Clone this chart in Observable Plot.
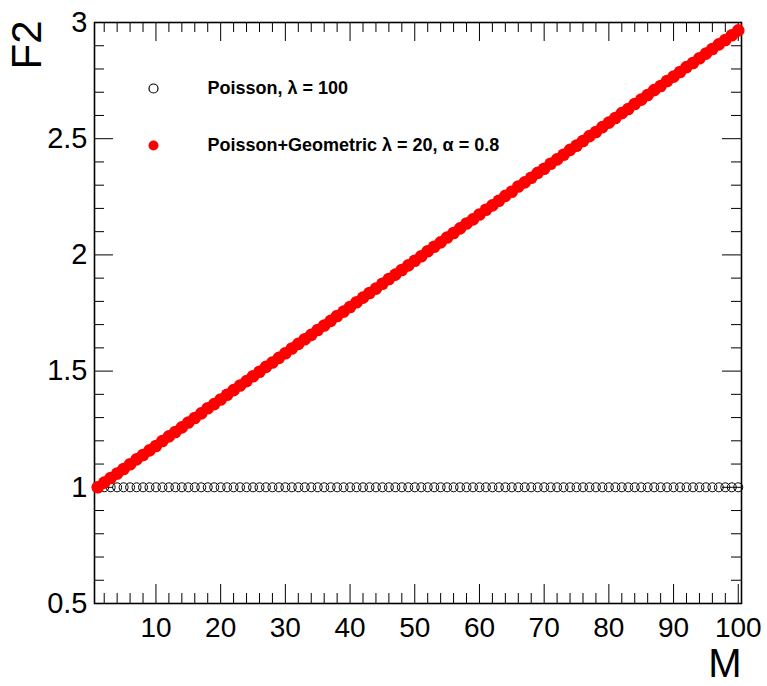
<!DOCTYPE html>
<html>
<head>
<meta charset="utf-8">
<script src="https://cdn.jsdelivr.net/npm/d3@7"></script>
<script src="https://cdn.jsdelivr.net/npm/@observablehq/plot@0.6"></script>
<style>
  body { margin: 0; background: #fff; }
  #chart svg { display: block; }
</style>
</head>
<body>
<div id="chart"></div>
<script>
// Bin multiplicity M = 1 … 100
const multiplicity = d3.range(1, 101);

// Scaled factorial moment F2 for a pure Poisson source (λ = 100)
const f2Poisson = [
  1.000, 1.000, 1.000, 1.000, 1.000, 1.000, 1.000, 1.000, 1.000, 1.000,
  1.000, 1.000, 1.000, 1.000, 1.000, 1.000, 1.000, 1.000, 1.000, 1.000,
  1.000, 1.000, 1.000, 1.000, 1.000, 1.000, 1.000, 1.000, 1.000, 1.000,
  1.000, 1.000, 1.000, 1.000, 1.000, 1.000, 1.000, 1.000, 1.000, 1.000,
  1.000, 1.000, 1.000, 1.000, 1.000, 1.000, 1.000, 1.000, 1.000, 1.000,
  1.000, 1.000, 1.000, 1.000, 1.000, 1.000, 1.000, 1.000, 1.000, 1.000,
  1.000, 1.000, 1.000, 1.000, 1.000, 1.000, 1.000, 1.000, 1.000, 1.000,
  1.000, 1.000, 1.000, 1.000, 1.000, 1.000, 1.000, 1.000, 1.000, 1.000,
  1.000, 1.000, 1.000, 1.000, 1.000, 1.000, 1.000, 1.000, 1.000, 1.000,
  1.000, 1.000, 1.000, 1.000, 1.000, 1.000, 1.000, 1.000, 1.000, 1.000
];

// F2 for a compound Poisson + geometric source (λ = 20, α = 0.8)
const f2PoissonGeometric = [
  1.000, 1.020, 1.040, 1.059, 1.079, 1.099, 1.120, 1.139, 1.159, 1.178,
  1.199, 1.219, 1.238, 1.258, 1.279, 1.298, 1.318, 1.340, 1.358, 1.378,
  1.398, 1.418, 1.438, 1.457, 1.478, 1.497, 1.518, 1.537, 1.557, 1.577,
  1.597, 1.617, 1.637, 1.656, 1.677, 1.696, 1.716, 1.737, 1.756, 1.776,
  1.796, 1.816, 1.836, 1.855, 1.876, 1.896, 1.915, 1.935, 1.955, 1.975,
  1.994, 2.016, 2.035, 2.054, 2.075, 2.094, 2.114, 2.135, 2.153, 2.174,
  2.194, 2.213, 2.233, 2.254, 2.272, 2.294, 2.312, 2.332, 2.353, 2.371,
  2.392, 2.411, 2.431, 2.452, 2.470, 2.490, 2.511, 2.529, 2.550, 2.569,
  2.589, 2.610, 2.628, 2.649, 2.668, 2.688, 2.709, 2.727, 2.748, 2.767,
  2.787, 2.808, 2.826, 2.846, 2.866, 2.886, 2.906, 2.925, 2.945, 2.966
];

// Axis ticks
const xMajorTicks = [10, 20, 30, 40, 50, 60, 70, 80, 90, 100];
const xMinorTicks = [2, 4, 6, 8, 12, 14, 16, 18, 22, 24, 26, 28, 32, 34, 36, 38,
  42, 44, 46, 48, 52, 54, 56, 58, 62, 64, 66, 68, 72, 74, 76, 78,
  82, 84, 86, 88, 92, 94, 96, 98];
const yMajorTicks = [0.5, 1, 1.5, 2, 2.5, 3];
const yMinorTicks = [0.6, 0.7, 0.8, 0.9, 1.1, 1.2, 1.3, 1.4, 1.6, 1.7, 1.8, 1.9,
  2.1, 2.2, 2.3, 2.4, 2.6, 2.7, 2.8, 2.9];

// Legend entries and axis titles
const legendLabels = ["Poisson, λ = 100", "Poisson+Geometric λ = 20, α = 0.8"];
const xTitle = "M";
const yTitle = "F2";

const poissonData = multiplicity.map((m, i) => ({m, f2: f2Poisson[i]}));
const compoundData = multiplicity.map((m, i) => ({m, f2: f2PoissonGeometric[i]}));

const W = 767, H = 686;
const mL = 94, mR = 26, mT = 22, mB = 83;
const innerW = W - mL - mR, innerH = H - mT - mB;
const majorLen = 19, minorLen = 10;

const chart = Plot.plot({
  width: W,
  height: H,
  marginLeft: mL,
  marginRight: mR,
  marginTop: mT,
  marginBottom: mB,
  style: {fontFamily: "'Liberation Sans', Arial, Helvetica, sans-serif", background: "#fff", color: "#000"},
  x: {domain: [0.5, 100.5]},
  y: {domain: [0.5, 3]},
  marks: [
    // tick labels
    Plot.axisX(xMajorTicks, {tickSize: 0, tickPadding: 14, fontSize: 28, label: null, tickFormat: d => String(d)}),
    Plot.axisY(yMajorTicks, {tickSize: 0, tickPadding: 7, fontSize: 29, label: null, tickFormat: d => String(d)}),

    // inward ticks on all four sides
    Plot.tickX(xMajorTicks, {x: d => d, insetTop: innerH - majorLen, stroke: "#000"}),
    Plot.tickX(xMajorTicks, {x: d => d, insetBottom: innerH - majorLen, stroke: "#000"}),
    Plot.tickX(xMinorTicks, {x: d => d, insetTop: innerH - minorLen, stroke: "#000"}),
    Plot.tickX(xMinorTicks, {x: d => d, insetBottom: innerH - minorLen, stroke: "#000"}),
    Plot.tickY(yMajorTicks, {y: d => d, insetRight: innerW - majorLen, stroke: "#000"}),
    Plot.tickY(yMajorTicks, {y: d => d, insetLeft: innerW - majorLen, stroke: "#000"}),
    Plot.tickY(yMinorTicks, {y: d => d, insetRight: innerW - minorLen, stroke: "#000"}),
    Plot.tickY(yMinorTicks, {y: d => d, insetLeft: innerW - minorLen, stroke: "#000"}),

    Plot.frame({stroke: "#000", strokeWidth: 1.6}),

    // data
    Plot.dot(poissonData, {x: "m", y: "f2", r: 4.5, stroke: "#000", strokeWidth: 1, fill: "none"}),
    Plot.dot(compoundData, {x: "m", y: "f2", r: 6.3, fill: "#ff0000", stroke: "none"}),

    // legend
    Plot.dot([legendLabels[0]], {frameAnchor: "top-left", dx: 59, dy: 66, r: 4.5, stroke: "#000", strokeWidth: 1.2, fill: "none"}),
    Plot.dot([legendLabels[1]], {frameAnchor: "top-left", dx: 59, dy: 123, r: 5, fill: "#ff0000", stroke: "none"}),
    Plot.text([legendLabels[0]], {frameAnchor: "top-left", dx: 113, dy: 66, text: d => d, textAnchor: "start", lineAnchor: "middle", fontSize: 18, fontWeight: "bold", fill: "#000"}),
    Plot.text([legendLabels[1]], {frameAnchor: "top-left", dx: 113, dy: 123, text: d => d, textAnchor: "start", lineAnchor: "middle", fontSize: 18, fontWeight: "bold", fill: "#000"}),

    // axis titles
    Plot.text([yTitle], {frameAnchor: "top-left", dx: -67, dy: -2, text: d => d, rotate: -90, textAnchor: "end", lineAnchor: "middle", fontSize: 42, fill: "#000"}),
    Plot.text([xTitle], {frameAnchor: "bottom-right", dx: 0, dy: 61, text: d => d, textAnchor: "end", lineAnchor: "middle", fontSize: 40, fill: "#000"})
  ]
});

document.getElementById("chart").appendChild(chart);
</script>
</body>
</html>
